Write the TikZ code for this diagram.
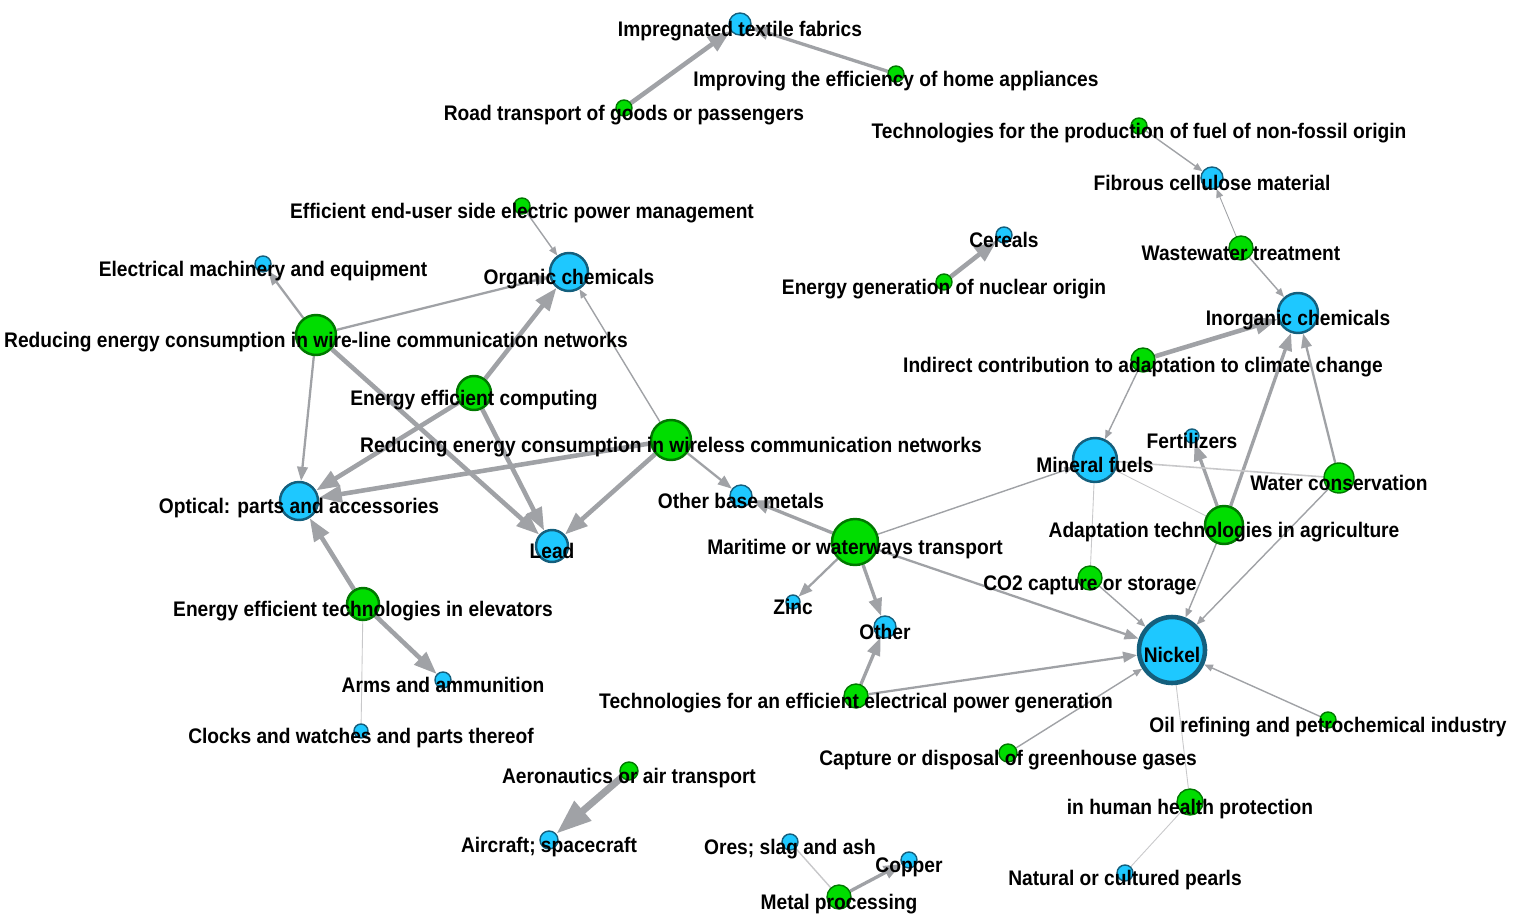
\documentclass[tikz,border=0pt]{standalone}
\usepackage{fontspec}
\newfontfamily\labfont{Liberation Sans}[FakeStretch=0.91]
\usetikzlibrary{arrows.meta}
\definecolor{gfill}{RGB}{0,221,0}
\definecolor{gline}{RGB}{0,120,0}
\definecolor{bfill}{RGB}{30,200,255}
\definecolor{bline}{RGB}{20,95,125}
\definecolor{edgegray}{RGB}{160,162,166}
\definecolor{thingray}{RGB}{200,200,202}
\pgfdeclarelayer{bg}
\pgfsetlayers{bg,main}

\begin{document}
\begin{tikzpicture}[x=0.02cm, y=-0.02cm,
    gn/.style={circle, draw=gline, fill=gfill, line width=0.8pt, inner sep=0pt, minimum size=#1*0.04cm},
    bn/.style={circle, draw=bline, fill=bfill, line width=0.8pt, inner sep=0pt, minimum size=#1*0.04cm},
    big/.style={line width=1.4pt},
    lab/.style={inner sep=0pt, text height=8.6pt, text depth=0pt, yshift=-0.09cm, font=\labfont\bfseries\fontsize{12}{14}\selectfont},
    e1/.style={draw=edgegray, line width=0.8pt, -{Triangle[length=5pt, width=4pt]}},
    e2/.style={draw=edgegray, line width=1.3pt, -{Triangle[length=8pt, width=6pt]}},
    e3/.style={draw=edgegray, line width=1.9pt, -{Triangle[length=10pt, width=7.5pt]}},
    e4/.style={draw=edgegray, line width=2.6pt, -{Triangle[length=13pt, width=9.5pt]}},
    e5/.style={draw=edgegray, line width=4pt, -{Triangle[length=20pt, width=14pt]}},
    ln/.style={draw=thingray, line width=0.5pt}]
    \useasboundingbox (0,0) rectangle (1518,922);

    % products
    \node[bn=11] (imp) at (740, 24) {};
    \node[bn=11] (fib) at (1212, 178) {};
    \node[bn=8] (cer) at (1004, 235) {};
    \node[bn=19, big] (org) at (569, 272) {};
    \node[bn=8] (elm) at (263, 264) {};
    \node[bn=20, big] (inorg) at (1298, 313) {};
    \node[bn=7] (fert) at (1192, 436) {};
    \node[bn=22, big] (minf) at (1095, 460) {};
    \node[bn=19, big] (opt) at (299, 501) {};
    \node[bn=16, big] (lead) at (552, 546) {};
    \node[bn=11] (obm) at (741, 496) {};
    \node[bn=7] (zinc) at (793, 602) {};
    \node[bn=11] (other) at (885, 627) {};
    \node[bn=33, line width=2.6pt] (nick) at (1172, 650) {};
    \node[bn=8] (arms) at (443, 680) {};
    \node[bn=7] (clock) at (361, 731) {};
    \node[bn=9] (air) at (549, 840) {};
    \node[bn=8] (ores) at (790, 842) {};
    \node[bn=8] (cop) at (909, 860) {};
    \node[bn=8] (pearl) at (1125, 873) {};

    % technologies
    \node[gn=8] (home) at (896, 74) {};
    \node[gn=8] (road) at (624, 108) {};
    \node[gn=8] (fuel) at (1139, 126) {};
    \node[gn=8] (eum) at (522, 206) {};
    \node[gn=8] (nuc) at (944, 282) {};
    \node[gn=12] (waste) at (1241, 248) {};
    \node[gn=20, big] (wire) at (316, 335) {};
    \node[gn=12] (indir) at (1143, 360) {};
    \node[gn=17, big] (comp) at (474, 393) {};
    \node[gn=20, big] (wless) at (671, 440) {};
    \node[gn=15] (water) at (1339, 478) {};
    \node[gn=19, big] (agri) at (1224, 525) {};
    \node[gn=23, big] (mar) at (855, 542) {};
    \node[gn=12] (co2) at (1090, 578) {};
    \node[gn=16, big] (elev) at (363, 604) {};
    \node[gn=12] (pgen) at (856, 696) {};
    \node[gn=8] (oil) at (1328, 720) {};
    \node[gn=9] (cdg) at (1008, 753) {};
    \node[gn=9] (aero) at (629, 771) {};
    \node[gn=13] (health) at (1190, 802) {};
    \node[gn=12] (metal) at (839, 897) {};

    \begin{pgfonlayer}{bg}
    \draw[e4] (road) -- (imp);
    \draw[e3] (home) -- (imp);
    \draw[e1] (fuel) -- (fib);
    \draw[e1, line width=0.5pt] (waste) -- (fib);
    \draw[e1] (waste) -- (inorg);
    \draw[e4] (nuc) -- (cer);
    \draw[e4] (indir) -- (inorg);
    \draw[e1] (indir) -- (minf);
    \draw[e1] (eum) -- (org);
    \draw[e2] (wire) -- (elm);
    \draw[e2] (wire) -- (org);
    \draw[e2] (wire) -- (opt);
    \draw[e4] (wire) -- (lead);
    \draw[e4] (comp) -- (org);
    \draw[e4] (comp) -- (opt);
    \draw[e4] (comp) -- (lead);
    \draw[e1] (wless) -- (org);
    \draw[e4] (wless) -- (opt);
    \draw[e4] (wless) -- (lead);
    \draw[e2] (wless) -- (obm);
    \draw[e3] (mar) -- (obm);
    \draw[e2] (mar) -- (zinc);
    \draw[e3] (mar) -- (other);
    \draw[e1] (mar) -- (minf);
    \draw[e2] (mar) -- (nick);
    \draw[e3] (pgen) -- (other);
    \draw[e2] (pgen) -- (nick);
    \draw[e4] (elev) -- (opt);
    \draw[e4] (elev) -- (arms);
    \draw[ln] (elev) -- (clock);
    \draw[e3] (agri) -- (fert);
    \draw[e3] (agri) -- (inorg);
    \draw[e1] (agri) -- (nick);
    \draw[ln] (agri) -- (minf);
    \draw[e2] (water) -- (inorg);
    \draw[e1] (water) -- (nick);
    \draw[ln, line width=0.9pt] (water) -- (minf);
    \draw[e1] (co2) -- (nick);
    \draw[ln] (co2) -- (minf);
    \draw[e1] (cdg) -- (nick);
    \draw[e1] (oil) -- (nick);
    \draw[ln] (health) -- (nick);
    \draw[ln] (health) -- (pearl);
    \draw[e5] (aero) -- (air);
    \draw[e3] (metal) -- (cop);
    \draw[ln, line width=0.8pt] (metal) -- (ores);
    \end{pgfonlayer}

    % labels
    \node[lab] (imp-t) at (imp) {Impregnated textile fabrics};
    \node[lab] (fib-t) at (fib) {Fibrous cellulose material};
    \node[lab] (cer-t) at (cer) {Cereals};
    \node[lab] (org-t) at (org) {Organic chemicals};
    \node[lab] (elm-t) at (elm) {Electrical machinery and equipment};
    \node[lab] (inorg-t) at (inorg) {Inorganic chemicals};
    \node[lab] (fert-t) at (fert) {Fertilizers};
    \node[lab] (minf-t) at (minf) {Mineral fuels};
    \node[lab] (opt-t) at (opt) {Optical: parts and accessories};
    \node[lab] (lead-t) at (lead) {Lead};
    \node[lab] (obm-t) at (obm) {Other base metals};
    \node[lab] (zinc-t) at (zinc) {Zinc};
    \node[lab] (other-t) at (other) {Other};
    \node[lab] (nick-t) at (nick) {Nickel};
    \node[lab] (arms-t) at (arms) {Arms and ammunition};
    \node[lab] (clock-t) at (clock) {Clocks and watches and parts thereof};
    \node[lab] (air-t) at (air) {Aircraft; spacecraft};
    \node[lab] (ores-t) at (ores) {Ores; slag and ash};
    \node[lab] (cop-t) at (cop) {Copper};
    \node[lab] (pearl-t) at (pearl) {Natural or cultured pearls};
    \node[lab] (home-t) at (home) {Improving the efficiency of home appliances};
    \node[lab] (road-t) at (road) {Road transport of goods or passengers};
    \node[lab] (fuel-t) at (fuel) {Technologies for the production of fuel of non-fossil origin};
    \node[lab] (eum-t) at (eum) {Efficient end-user side electric power management};
    \node[lab] (nuc-t) at (nuc) {Energy generation of nuclear origin};
    \node[lab] (waste-t) at (waste) {Wastewater treatment};
    \node[lab] (wire-t) at (wire) {Reducing energy consumption in wire-line communication networks};
    \node[lab] (indir-t) at (indir) {Indirect contribution to adaptation to climate change};
    \node[lab] (comp-t) at (comp) {Energy efficient computing};
    \node[lab] (wless-t) at (wless) {Reducing energy consumption in wireless communication networks};
    \node[lab] (water-t) at (water) {Water conservation};
    \node[lab] (agri-t) at (agri) {Adaptation technologies in agriculture};
    \node[lab] (mar-t) at (mar) {Maritime or waterways transport};
    \node[lab] (co2-t) at (co2) {CO2 capture or storage};
    \node[lab] (elev-t) at (elev) {Energy efficient technologies in elevators};
    \node[lab] (pgen-t) at (pgen) {Technologies for an efficient electrical power generation};
    \node[lab] (oil-t) at (oil) {Oil refining and petrochemical industry};
    \node[lab] (cdg-t) at (cdg) {Capture or disposal of greenhouse gases};
    \node[lab] (aero-t) at (aero) {Aeronautics or air transport};
    \node[lab] (health-t) at (health) {in human health protection};
    \node[lab] (metal-t) at (metal) {Metal processing};
\end{tikzpicture}
\end{document}
